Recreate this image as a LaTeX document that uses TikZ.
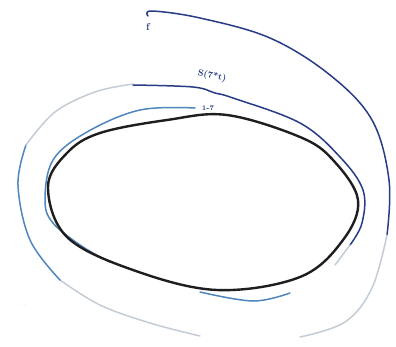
\documentclass[tikz,border=0pt]{standalone}
\definecolor{inkdark}{HTML}{283C86}
\definecolor{inkblue}{HTML}{4F86BE}
\definecolor{inkgray}{HTML}{C4CCD6}
\definecolor{inkblack}{HTML}{1E1E1E}
\tikzset{
  pen/.style={line width=1.5pt, line cap=round, line join=round},
  egg/.style={pen, draw=inkblack, line width=2.4pt},
  darkline/.style={pen, draw=inkdark},
  blueline/.style={pen, draw=inkblue},
  grayline/.style={pen, draw=inkgray},
  scrawl/.style={inner sep=0pt, text=inkdark, font=\small\bfseries}
}
\begin{document}
\begin{tikzpicture}[x=1pt,y=-1pt]
\useasboundingbox (0,0) rectangle (396,346);
\fill[white] (0,0) rectangle (396,346);

% outer loop
\draw[darkline] plot[smooth, tension=0.6] coordinates {(148,16) (152,11) (200,18) (270,38) (330,75) (372,120) (389,180) (387,235)};
\draw[grayline] plot[smooth, tension=0.6] coordinates {(387,235) (372,288) (345,322) (300,337)};
\draw[grayline] plot[smooth, tension=0.6] coordinates {(200,336) (150,323) (100,305) (60,280)};
\draw[blueline] plot[smooth, tension=0.6] coordinates {(60,280) (30,240) (18,185) (26,145)};
\draw[grayline] plot[smooth, tension=0.6] coordinates {(26,145) (55,112) (95,92) (133,84)};

% middle curve
\draw[darkline] plot[smooth, tension=0.6] coordinates {(133,85) (193,87) (215,93) (233,98) (300,123) (340,157) (363,190) (362,223) (350,245)};
\draw[grayline] plot[smooth, tension=0.6] coordinates {(350,245) (335,265)};

% inner blue curve
\draw[blueline] plot[smooth, tension=0.6] coordinates {(195,108) (140,110) (87,132) (53,160) (45,200) (53,223) (83,247) (110,262)};
\draw[blueline] plot[smooth, tension=0.6] coordinates {(200,292) (253,301) (290,293)};

% black egg
\draw[egg] plot[smooth cycle, tension=0.6] coordinates {(48,187) (67,153) (100,133) (167,120) (227,115) (300,137) (333,160) (358,200) (343,240) (300,277) (217,290) (133,270) (67,237)};

% labels
\node[scrawl, font=\normalsize\bfseries] (f) at (148,27) {f};
\node[scrawl, rotate=-12] (s) at (212,76) {S(7*t)};
\node[scrawl, font=\scriptsize\bfseries] (h) at (208,108) {1-7};
\node[scrawl, text=inkgray, font=\footnotesize] (d) at (22,305) {. .};
\end{tikzpicture}
\end{document}
